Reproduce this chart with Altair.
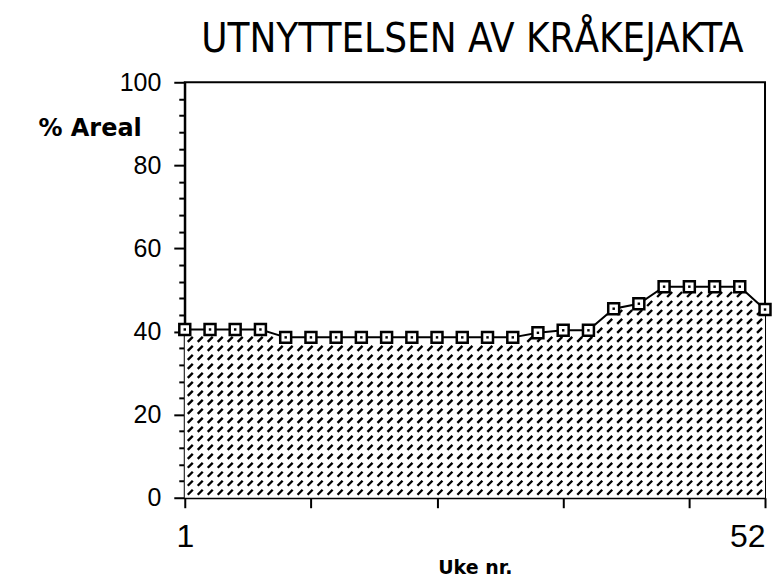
import altair as alt
import pandas as pd
import numpy as np

weeks = [1.00, 3.22, 5.43, 7.65, 9.87, 12.09, 14.30, 16.52, 18.74, 20.96, 23.17, 25.39,
         27.61, 29.83, 32.04, 34.26, 36.48, 38.70, 40.91, 43.13, 45.35, 47.57, 49.78, 52.00]
areal = [40.5, 40.5, 40.5, 40.5, 38.6, 38.6, 38.6, 38.6, 38.6, 38.6, 38.6, 38.6,
         38.6, 38.6, 39.7, 40.3, 40.3, 45.5, 46.7, 50.8, 50.8, 50.8, 50.8, 45.3]
x_ticks = [1, 12.09, 23.17, 34.26, 45.35, 52]
y_ticks = list(range(0, 101, 4))
title_text = ["UTNYTTELSEN AV KRÅKEJAKTA"]

W, H = 581, 416
df = pd.DataFrame({"uke": weeks, "areal": areal})

# hatch decoration (diagonal dashes) inside the area
wk_px = 51 / W
un_px = 100 / H
segs = []
yy = 3 * un_px
while yy < 100:
    xx = 1 + 3 * wk_px
    while xx + 5 * wk_px < 52:
        x2 = xx + 5 * wk_px
        y2 = yy + 5 * un_px
        top = np.interp(x2, weeks, areal)
        if y2 < top - 2 * un_px:
            segs.append({"x": xx, "y": yy, "x2": x2, "y2": y2})
        xx += 10 * wk_px
    yy += 9 * un_px
hatch = pd.DataFrame(segs)

xs = alt.Scale(domain=[1, 52], nice=False)
ys = alt.Scale(domain=[0, 100], nice=False)

x_axis = alt.Axis(
    values=x_ticks, tickCount=60, grid=False, domainColor="black", domainWidth=2,
    tickColor="black", tickWidth=2, tickSize=10, labelOverlap=False,
    labelExpr="datum.value == 1 ? '1' : (datum.value == 52 ? '52' : '')",
    labelAlign={"condition": {"test": "datum.value == 52", "value": "right"}, "value": "center"},
    labelFont="Liberation Sans", labelFontSize=32, labelColor="black",
    labelBaseline="top", labelPadding=14,
    title="Uke nr.", titleFont="DejaVu Sans", titleFontSize=19, titleFontWeight="bold",
    titleColor="black", titleY=76, titleBaseline="alphabetic",
)
y_axis = alt.Axis(
    values=y_ticks, tickCount=100, grid=False, domainColor="black", domainWidth=2,
    tickColor="black", tickWidth=2, labelOverlap=False,
    tickSize={"condition": {"test": "datum.value % 20 == 0", "value": 11}, "value": 6},
    labelExpr="datum.value % 20 == 0 ? datum.label : ''",
    labelFont="Liberation Sans", labelFontSize=25, labelColor="black", labelPadding=13,
    title="% Areal", titleFont="DejaVu Sans", titleFontSize=24, titleFontWeight="bold",
    titleColor="black", titleAngle=0, titleAlign="left", titleBaseline="middle",
    titleX=-147, titleY=46,
)

base = alt.Chart(df)

area = base.mark_area(color="white", opacity=1).encode(
    x=alt.X("uke:Q", scale=xs, axis=x_axis),
    y=alt.Y("areal:Q", scale=ys, axis=y_axis),
)
hatch_layer = alt.Chart(hatch).mark_rule(color="black", strokeWidth=2.4).encode(
    x=alt.X("x:Q", scale=xs), y=alt.Y("y:Q", scale=ys),
    x2="x2:Q", y2="y2:Q",
)
line = base.mark_line(color="black", strokeWidth=2).encode(
    x=alt.X("uke:Q", scale=xs), y=alt.Y("areal:Q", scale=ys))
pts = base.mark_point(shape="square", size=120, filled=True, fill="white",
                      stroke="black", strokeWidth=2.5, opacity=1).encode(
    x=alt.X("uke:Q", scale=xs), y=alt.Y("areal:Q", scale=ys))
dots = base.mark_point(shape="square", size=6, filled=True, color="black", opacity=1).encode(
    x=alt.X("uke:Q", scale=xs), y=alt.Y("areal:Q", scale=ys))
title = alt.Chart(pd.DataFrame({"t": title_text})).mark_text(
    font="DejaVu Sans Condensed", fontSize=40, color="black", align="center",
    baseline="alphabetic",
).encode(text="t:N", x=alt.value(288), y=alt.value(-30))

chart = alt.layer(area, hatch_layer, line, pts, dots, title).properties(
    width=W, height=H,
    autosize="none", background="white",
    padding={"left": 177, "top": 74, "right": 10, "bottom": 79},
).configure_view(stroke="black", strokeWidth=2)

chart.save("out.html", embed_options={"renderer": "svg", "actions": False})
